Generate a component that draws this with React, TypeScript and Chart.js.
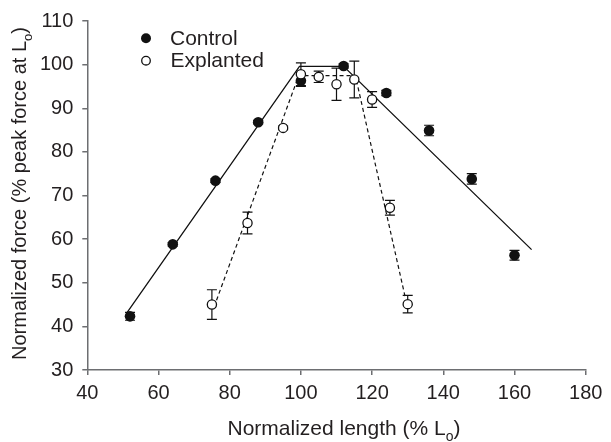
import React, { useEffect, useRef } from 'react';
import { Chart, registerables } from 'chart.js';

Chart.register(...registerables);

// ---- Data ----
const controlX = [52, 64, 76, 88, 100, 112, 124, 136, 148, 160];
const controlY = [42.3, 58.8, 73.4, 86.8, 96.3, 99.7, 93.5, 84.9, 73.8, 56.3];
const controlErr = [0.9, 0.4, 0.4, 0.4, 1.3, 0.5, 0.6, 1.2, 1.2, 1.1];

const explantedX = [75, 85, 95, 100, 105, 110, 115, 120, 125, 130];
const explantedY = [45.0, 63.7, 85.5, 97.8, 97.2, 95.5, 96.6, 92.0, 67.2, 45.1];
const explantedErr = [3.4, 2.5, 0.4, 2.6, 1.3, 3.7, 4.2, 1.8, 1.7, 2.0];

const controlFitX = [51.2, 99.6, 112, 164.8];
const controlFitY = [43.2, 99.6, 99.6, 57.6];
const explantedFitX = [76.3, 99.4, 115.3, 129.3];
const explantedFitY = [46.0, 97.5, 97.5, 46.7];

const legendLabels = ['Control', 'Explanted'];
const xTitleMain = 'Normalized length (% L';
const yTitleMain = 'Normalized force (% peak force at L';
const titleSub = 'o';
const titleEnd = ')';

const FONT = '"Liberation Sans", Arial, Helvetica, sans-serif';
const TEXT = '#231f20';
const AXIS = '#6d6e71';

const zip = (xs: number[], ys: number[]) => xs.map((x, i) => ({ x, y: ys[i] }));

function drawComposite(
  ctx: CanvasRenderingContext2D,
  cx: number,
  baseY: number,
  main: string,
  size: number
) {
  const sub = Math.round(size * 0.65);
  ctx.textBaseline = 'alphabetic';
  ctx.textAlign = 'left';
  ctx.font = `${size}px ${FONT}`;
  const w1 = ctx.measureText(main).width;
  const w3 = ctx.measureText(titleEnd).width;
  ctx.font = `${sub}px ${FONT}`;
  const w2 = ctx.measureText(titleSub).width;
  const total = w1 + w2 + w3;
  let x = cx - total / 2;
  ctx.font = `${size}px ${FONT}`;
  ctx.fillText(main, x, baseY);
  x += w1;
  ctx.font = `${sub}px ${FONT}`;
  ctx.fillText(titleSub, x, baseY + 6);
  x += w2;
  ctx.font = `${size}px ${FONT}`;
  ctx.fillText(titleEnd, x, baseY);
}

export default function App() {
  const ref = useRef<HTMLCanvasElement>(null);

  useEffect(() => {
    if (!ref.current) return;

    const errorBars = {
      id: 'errorBars',
      beforeDatasetsDraw(chart: any) {
        const { ctx, scales } = chart;
        const xs = scales.x;
        const ys = scales.y;
        const groups = [
          { X: controlX, Y: controlY, E: controlErr },
          { X: explantedX, Y: explantedY, E: explantedErr },
        ];
        ctx.save();
        ctx.strokeStyle = '#111';
        ctx.lineWidth = 1.2;
        for (const g of groups) {
          g.X.forEach((xv, i) => {
            const px = xs.getPixelForValue(xv);
            const top = ys.getPixelForValue(g.Y[i] + g.E[i]);
            const bot = ys.getPixelForValue(g.Y[i] - g.E[i]);
            ctx.beginPath();
            ctx.moveTo(px, top);
            ctx.lineTo(px, bot);
            ctx.moveTo(px - 5, top);
            ctx.lineTo(px + 5, top);
            ctx.moveTo(px - 5, bot);
            ctx.lineTo(px + 5, bot);
            ctx.stroke();
          });
        }
        ctx.restore();
      },
    };

    const annotations = {
      id: 'annotations',
      afterDraw(chart: any) {
        const { ctx } = chart;
        ctx.save();
        // legend
        ctx.beginPath();
        ctx.arc(146, 38.3, 5, 0, Math.PI * 2);
        ctx.fillStyle = '#111';
        ctx.fill();
        ctx.beginPath();
        ctx.arc(146, 60.7, 4.3, 0, Math.PI * 2);
        ctx.fillStyle = '#fff';
        ctx.fill();
        ctx.strokeStyle = '#111';
        ctx.lineWidth = 1.3;
        ctx.stroke();
        ctx.fillStyle = TEXT;
        ctx.font = `21px ${FONT}`;
        ctx.textAlign = 'left';
        ctx.textBaseline = 'alphabetic';
        ctx.fillText(legendLabels[0], 170, 45);
        ctx.fillText(legendLabels[1], 170.5, 67);
        // x title
        drawComposite(ctx, 344, 435, xTitleMain, 21);
        // y title
        ctx.save();
        ctx.translate(26, 193.5);
        ctx.rotate(-Math.PI / 2);
        drawComposite(ctx, 0, 0, yTitleMain, 20);
        ctx.restore();
        ctx.restore();
      },
    };

    const chart = new Chart(ref.current, {
      type: 'scatter',
      data: {
        datasets: [
          {
            label: legendLabels[1],
            data: zip(explantedX, explantedY),
            pointRadius: 4.6,
            pointBackgroundColor: '#fff',
            pointBorderColor: '#111',
            pointBorderWidth: 1.3,
          },
          {
            label: legendLabels[0],
            data: zip(controlX, controlY),
            pointRadius: 5.3,
            pointBackgroundColor: '#111',
            pointBorderColor: '#111',
            pointBorderWidth: 0,
          },
          {
            label: 'Control fit',
            data: zip(controlFitX, controlFitY),
            showLine: true,
            pointRadius: 0,
            borderColor: '#111',
            borderWidth: 1.3,
          },
          {
            label: 'Explanted fit',
            data: zip(explantedFitX, explantedFitY),
            showLine: true,
            pointRadius: 0,
            borderColor: '#111',
            borderWidth: 1.2,
            borderDash: [4, 3],
          },
        ],
      },
      options: {
        responsive: false,
        animation: false,
        devicePixelRatio: 1,
        layout: { padding: { top: 20, right: 25.3, left: 0, bottom: 0 } },
        plugins: {
          legend: { display: false },
          tooltip: { enabled: false },
          title: { display: false },
        },
        scales: {
          x: {
            type: 'linear',
            min: 40,
            max: 180,
            ticks: {
              stepSize: 20,
              font: { size: 20, family: FONT },
              color: TEXT,
              padding: 6,
              maxRotation: 0,
            },
            grid: {
              display: true,
              drawOnChartArea: false,
              drawTicks: true,
              tickLength: 5,
              color: AXIS,
              lineWidth: 1.5,
            },
            border: { display: true, color: AXIS, width: 1.5 },
            afterFit: (s: any) => {
              s.height = 72;
            },
          },
          y: {
            type: 'linear',
            min: 30,
            max: 110,
            ticks: {
              stepSize: 10,
              font: { size: 20, family: FONT },
              color: TEXT,
              padding: 9,
            },
            grid: {
              display: true,
              drawOnChartArea: false,
              drawTicks: true,
              tickLength: 5,
              color: AXIS,
              lineWidth: 1.5,
            },
            border: { display: true, color: AXIS, width: 1.5 },
            afterFit: (s: any) => {
              s.width = 87.3;
            },
          },
        },
      },
      plugins: [errorBars, annotations],
    } as any);

    return () => chart.destroy();
  }, []);

  return (
    <div style={{ position: 'absolute', left: 0, top: 0, width: 611, height: 442, background: '#fff' }}>
      <canvas ref={ref} width={611} height={442} style={{ display: 'block' }} />
    </div>
  );
}
